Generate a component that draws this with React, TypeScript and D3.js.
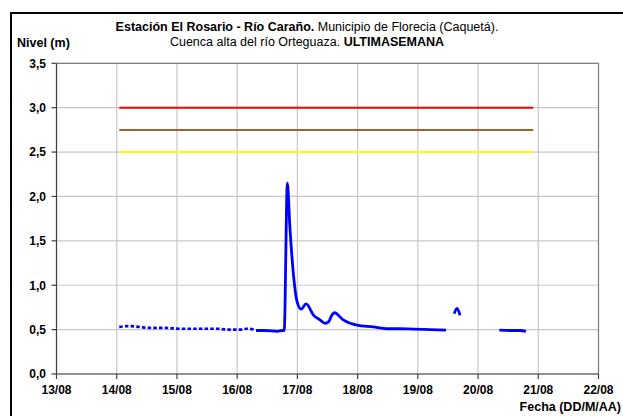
import React from "react";
import * as d3 from "d3";

const xTickLabels = ["13/08", "14/08", "15/08", "16/08", "17/08", "18/08", "19/08", "20/08", "21/08", "22/08"];
const yTickValues = [0, 0.5, 1, 1.5, 2, 2.5, 3, 3.5];

// dotted (early) part of the level series
const dottedTimes = ["14/08 01:00", "14/08 05:00", "14/08 09:00", "14/08 13:00", "14/08 19:00", "15/08 01:00", "15/08 09:00", "15/08 15:00", "15/08 21:00", "16/08 01:00", "16/08 04:00", "16/08 07:00"];
const dottedValues = [0.53, 0.54, 0.53, 0.52, 0.52, 0.51, 0.51, 0.51, 0.5, 0.5, 0.51, 0.5];

const mainTimes = ["16/08 07:30", "16/08 11:00", "16/08 16:00", "16/08 18:00", "16/08 18:45", "16/08 20:00", "16/08 21:00", "16/08 22:30", "16/08 23:45", "17/08 01:30", "17/08 03:30", "17/08 06:30", "17/08 09:00", "17/08 11:00", "17/08 12:30", "17/08 13:30", "17/08 14:45", "17/08 18:15", "17/08 23:45", "18/08 06:15", "18/08 11:30", "18/08 17:00", "18/08 22:00", "19/08 05:00", "19/08 11:15"];
const mainValues = [0.49, 0.49, 0.48, 0.49, 0.49, 2.15, 1.66, 1.1, 0.83, 0.73, 0.79, 0.66, 0.61, 0.57, 0.59, 0.65, 0.69, 0.61, 0.55, 0.53, 0.51, 0.51, 0.505, 0.5, 0.495];

const blipTimes = ["19/08 14:30", "19/08 15:35", "19/08 16:50"];
const blipValues = [0.68, 0.74, 0.66];

const lastTimes = ["20/08 08:30", "20/08 12:50", "20/08 16:50", "20/08 19:05"];
const lastValues = [0.495, 0.49, 0.49, 0.48];

const thresholdValues = [3.0, 2.75, 2.5];
const thresholdColors = ["#ff0000", "#996633", "#ffff00"];
const thresholdStart = "14/08 01:00";
const thresholdEnd = "20/08 22:00";

const parse = d3.timeParse("%d/%m %H:%M");
const parseDay = d3.timeParse("%d/%m");

const W = 623;
const H = 416;
const L = 56.5;
const R = 598.5;
const T = 63.3;
const B = 374;

export default function App() {
  const x = d3.scaleTime()
    .domain([parseDay("13/08") as Date, parseDay("22/08") as Date])
    .range([L, R]);
  const y = d3.scaleLinear().domain([0, 3.5]).range([B, T]);

  const toPts = (ts: string[], vs: number[]) => ts.map((t, i) => [x(parse(t) as Date), y(vs[i])] as [number, number]);
  const line = d3.line().curve(d3.curveMonotoneX);

  const xTicks = xTickLabels.map((s) => ({ s, px: x(parseDay(s) as Date) }));
  const font = "'Liberation Sans', Arial, sans-serif";

  return (
    <svg width={W} height={H} style={{ position: "absolute", left: 0, top: 0 }} fontFamily={font}>
      <rect x={0} y={0} width={W} height={H} fill="#fff" />
      {/* outer frame */}
      <path d={`M11,${H + 5} V13 H${W + 5}`} fill="none" stroke="#000" strokeWidth={2} />
      {/* title */}
      <text x={307} y={31} textAnchor="middle" fontSize={12.5} fill="#000">
        <tspan fontWeight="bold">Estación El Rosario - Río Caraño.</tspan>
        <tspan> Municipio de Florecia (Caquetá).</tspan>
      </text>
      <text x={307} y={46} textAnchor="middle" fontSize={12.5} fill="#000">
        <tspan>Cuenca alta del río Orteguaza. </tspan>
        <tspan fontWeight="bold">ULTIMASEMANA</tspan>
      </text>
      <text x={17} y={46.5} fontSize={12.5} fontWeight="bold" fill="#000">Nivel (m)</text>

      {/* grid */}
      {yTickValues.map((v) => (
        <line key={"gy" + v} x1={L} x2={R} y1={y(v)} y2={y(v)} stroke="#c8c8c8" strokeWidth={1.2} />
      ))}
      {xTicks.map((t) => (
        <line key={"gx" + t.s} x1={t.px} x2={t.px} y1={T} y2={B} stroke="#c8c8c8" strokeWidth={1.2} />
      ))}
      {/* plot border top/right */}
      <path d={`M${L},${T} H${R} V${B}`} fill="none" stroke="#808080" strokeWidth={1.2} />

      {/* thresholds */}
      {thresholdValues.map((v, i) => (
        <line key={"th" + v} x1={x(parse(thresholdStart) as Date)} x2={x(parse(thresholdEnd) as Date)} y1={y(v)} y2={y(v)} stroke={thresholdColors[i]} strokeWidth={2} />
      ))}

      {/* series */}
      <path d={line(toPts(dottedTimes, dottedValues)) || ""} fill="none" stroke="#0000ff" strokeWidth={2.7} strokeDasharray="3.5,2.2" />
      <path d={line(toPts(mainTimes, mainValues)) || ""} fill="none" stroke="#0000ff" strokeWidth={2.8} strokeLinejoin="round" />
      <path d={line(toPts(blipTimes, blipValues)) || ""} fill="none" stroke="#0000ff" strokeWidth={2.8} strokeLinejoin="round" />
      <path d={line(toPts(lastTimes, lastValues)) || ""} fill="none" stroke="#0000ff" strokeWidth={2.8} />

      {/* axes */}
      <line x1={L} x2={L} y1={T} y2={B} stroke="#404040" strokeWidth={1.2} />
      <line x1={L} x2={R} y1={B} y2={B} stroke="#404040" strokeWidth={1.2} />
      {yTickValues.map((v) => (
        <g key={"yt" + v}>
          <line x1={L - 5} x2={L} y1={y(v)} y2={y(v)} stroke="#404040" strokeWidth={1.2} />
          <text x={46} y={y(v) + 4.3} textAnchor="end" fontSize={12} fontWeight="bold" fill="#000">
            {d3.format(".1f")(v).replace(".", ",")}
          </text>
        </g>
      ))}
      {xTicks.map((t) => (
        <g key={"xt" + t.s}>
          <line x1={t.px} x2={t.px} y1={B} y2={B + 5} stroke="#404040" strokeWidth={1.2} />
          <text x={t.px} y={393.5} textAnchor="middle" fontSize={12} fontWeight="bold" fill="#000">{t.s}</text>
        </g>
      ))}
      <text x={621} y={410.5} textAnchor="end" fontSize={12.5} fontWeight="bold" fill="#000">Fecha (DD/M/AA)</text>
    </svg>
  );
}
